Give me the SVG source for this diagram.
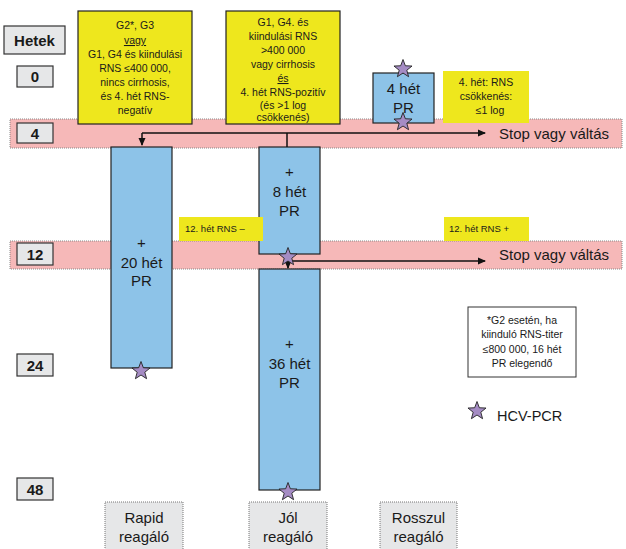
<svg xmlns="http://www.w3.org/2000/svg" width="626" height="549" viewBox="0 0 626 549">
<style>
text{font-family:"Liberation Sans","Open Sans",sans-serif;fill:#1a1a1a}
.wk{fill:#e6e7e8;stroke:#333;stroke-width:1.2}
.wt{font-size:15px;font-weight:bold;text-anchor:middle}
.band{fill:#f6b8b8;stroke:#888;stroke-width:1;stroke-dasharray:1 1}
.yel{fill:#eee71d}
.yb{fill:#eee71d;stroke:#222;stroke-width:1.2}
.blue{fill:#8dc3e8;stroke:#222;stroke-width:1.2}
.sm{font-size:10.5px;text-anchor:middle}
.md{font-size:15px;text-anchor:middle}
.lab{font-size:9.5px}
.stop{font-size:15px}
.resp{fill:#e6e7e8;stroke:#777;stroke-width:1;stroke-dasharray:1 1}
.ln{stroke:#111;stroke-width:1.5;fill:none}
</style>
<defs>
<path id="star" d="M0,-9.5 L2.35,-3.24 L9.03,-2.94 L3.8,1.24 L5.58,7.69 L0,4 L-5.58,7.69 L-3.8,1.24 L-9.03,-2.94 L-2.35,-3.24Z" fill="#a58cc4" stroke="#222" stroke-width="0.9"/>
<marker id="arr" markerWidth="8" markerHeight="8" refX="7" refY="4" orient="auto" markerUnits="userSpaceOnUse"><path d="M0,0.5 L8,4 L0,7.5Z" fill="#111"/></marker>
</defs>
<g id="bands">
<rect class="band" x="10" y="119" width="612" height="29"/>
<rect class="band" x="10" y="241" width="612" height="28"/>
</g>
<g id="weeks">
<g id="w-hetek"><rect class="wk" x="4" y="26" width="61" height="28"/><text class="wt" x="34.5" y="46" font-size="16">Hetek</text></g>
<g id="w0"><rect class="wk" x="17" y="66" width="36" height="21"/><text class="wt" x="35" y="82">0</text></g>
<g id="w4"><rect class="wk" x="17" y="123" width="36" height="20"/><text class="wt" x="35" y="138.5">4</text></g>
<g id="w12"><rect class="wk" x="17" y="243" width="36" height="22"/><text class="wt" x="35" y="259.5">12</text></g>
<g id="w24"><rect class="wk" x="17" y="354" width="36" height="22"/><text class="wt" x="35" y="370.5">24</text></g>
<g id="w48"><rect class="wk" x="17" y="478" width="36" height="22"/><text class="wt" x="35" y="494.5">48</text></g>
</g>
<g id="cond1"><rect class="yb" x="78" y="11" width="114" height="113"/>
<text class="sm" x="135" y="29">G2*, G3</text>
<text class="sm" x="135" y="44" text-decoration="underline">vagy</text>
<text class="sm" x="135" y="57.5">G1, G4 és kiindulási</text>
<text class="sm" x="135" y="71.5">RNS ≤400 000,</text>
<text class="sm" x="135" y="85.5">nincs cirrhosis,</text>
<text class="sm" x="135" y="100">és 4. hét RNS-</text>
<text class="sm" x="135" y="113.5">negatív</text>
</g>
<g id="cond2"><rect class="yb" x="226" y="11" width="114" height="113"/>
<text class="sm" x="283" y="26">G1, G4. és</text>
<text class="sm" x="283" y="39.5">kiindulási RNS</text>
<text class="sm" x="283" y="53.5">&gt;400 000</text>
<text class="sm" x="283" y="68">vagy cirrhosis</text>
<text class="sm" x="283" y="82" text-decoration="underline">és</text>
<text class="sm" x="283" y="95.5">4. hét RNS-pozitív</text>
<text class="sm" x="283" y="109">(és &gt;1 log</text>
<text class="sm" x="283" y="121">csökkenés)</text>
</g>
<g id="cond3"><rect class="yel" x="443" y="71" width="86" height="52"/>
<text class="sm" x="486" y="86" font-size="10">4. hét: RNS</text>
<text class="sm" x="486" y="100" font-size="10">csökkenés:</text>
<text class="sm" x="490" y="114" font-size="10">≤1 log</text>
</g>
<g id="pr4"><rect class="blue" x="373" y="73" width="61" height="50"/>
<text class="md" x="403.5" y="94" font-size="16">4 hét</text>
<text class="md" x="403.5" y="113" font-size="16">PR</text>
</g>
<g id="pr8"><rect class="blue" x="259" y="147" width="61" height="107"/>
<text class="md" x="289.5" y="177">+</text>
<text class="md" x="289.5" y="197">8 hét</text>
<text class="md" x="289.5" y="216">PR</text>
</g>
<g id="pr20"><rect class="blue" x="111" y="147" width="61" height="221"/>
<text class="md" x="141.5" y="248">+</text>
<text class="md" x="141.5" y="268">20 hét</text>
<text class="md" x="141.5" y="286">PR</text>
</g>
<g id="pr36"><rect class="blue" x="259" y="269" width="61" height="221"/>
<text class="md" x="289.5" y="349">+</text>
<text class="md" x="289.5" y="369">36 hét</text>
<text class="md" x="289.5" y="388">PR</text>
</g>
<g id="lab12neg"><rect class="yel" x="179" y="217" width="84" height="24"/><text class="lab" x="185" y="232">12. hét RNS –</text></g>
<g id="lab12pos"><rect class="yel" x="444" y="217" width="85" height="24"/><text class="lab" x="449" y="232">12. hét RNS +</text></g>
<g id="connectors">
<path class="ln" d="M142,133 H485" marker-end="url(#arr)"/>
<path class="ln" d="M142,133 V145" marker-end="url(#arr)"/>
<path class="ln" d="M287,133 V147"/>
<path class="ln" d="M288,261 H485" marker-end="url(#arr)"/>
<path class="ln" d="M288,262 V268" marker-end="url(#arr)"/>
</g>
<g id="stops">
<text class="stop" x="499" y="139">Stop vagy váltás</text>
<text class="stop" x="499" y="260">Stop vagy váltás</text>
</g>
<g id="stars">
<use href="#star" x="403" y="69"/>
<use href="#star" x="403" y="122"/>
<use href="#star" x="288" y="257"/>
<use href="#star" x="141" y="371"/>
<use href="#star" x="288" y="492"/>
</g>
<g id="note"><rect fill="#fff" stroke="#333" stroke-width="1" x="468" y="307" width="108" height="70"/>
<text class="sm" x="522" y="324">*G2 esetén, ha</text>
<text class="sm" x="522" y="338">kiinduló RNS-titer</text>
<text class="sm" x="522" y="353">≤800 000, 16 hét</text>
<text class="sm" x="522" y="367">PR elegendő</text>
</g>
<g id="legend"><use href="#star" x="477" y="411"/><text x="497" y="421" font-size="14.5">HCV-PCR</text></g>
<g id="resp-rapid"><rect class="resp" x="105" y="502" width="78" height="50"/><text class="md" x="144" y="523">Rapid</text><text class="md" x="144" y="542">reagáló</text></g>
<g id="resp-jol"><rect class="resp" x="249" y="502" width="78" height="50"/><text class="md" x="288" y="523">Jól</text><text class="md" x="288" y="542">reagáló</text></g>
<g id="resp-rossz"><rect class="resp" x="380" y="502" width="77" height="50"/><text class="md" x="418.5" y="523">Rosszul</text><text class="md" x="418.5" y="542">reagáló</text></g>
</svg>
